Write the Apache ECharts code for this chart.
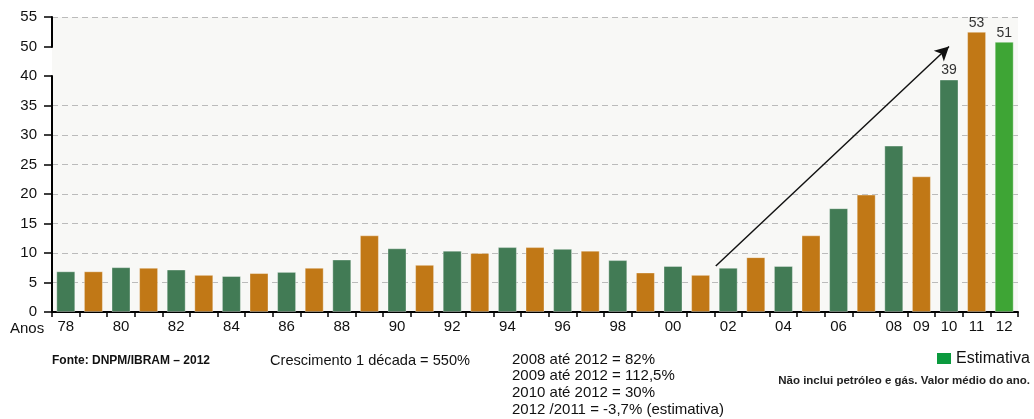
<!DOCTYPE html>
<html>
<head>
<meta charset="utf-8">
<script src="https://cdn.jsdelivr.net/npm/echarts@6/dist/echarts.min.js"></script>
<style>
html,body{margin:0;padding:0;background:#fff;}
#c{width:1034px;height:419px;}
</style>
</head>
<body>
<div id="c"></div>
<script>
var years = ['78','79','80','81','82','83','84','85','86','87','88','89','90','91','92','93','94','95','96','97','98','99','00','01','02','03','04','05','06','07','08','09','10','11','12'];
var values = [6.9,6.9,7.6,7.5,7.2,6.3,6.1,6.6,6.8,7.5,8.9,13.0,10.8,8.0,10.4,10.0,11.0,11.0,10.7,10.4,8.8,6.7,7.8,6.3,7.5,9.3,7.8,13.0,17.6,19.9,28.2,23.0,39.4,52.5,50.8];
var labeledYears = ['10','11','12'];
var estimateYears = ['12'];
var shownYearLabels = ['78','80','82','84','86','88','90','92','94','96','98','00','02','04','06','08','09','10','11','12'];
var yTicks = {min:0, max:55, interval:5, breakStart:40, breakEnd:50};
// arrow ends, in category-slot units (0 = left edge of '78') and axis values
var arrowFrom = [24.05, 7.8];
var arrowTo = [32.5, 50];
var notes = ['2008 até 2012 = 82%','2009 até 2012 = 112,5%','2010 até 2012 = 30%','2012 /2011 = -3,7% (estimativa)'];

var FONT = '"Liberation Sans Narrow","Liberation Sans",Arial,sans-serif';
var GREEN = '#427b55', ORANGE = '#c17816', EST = '#3ea535';

var chart = echarts.init(document.getElementById('c'), null, {renderer:'canvas'});

var barData = values.map(function(v, i){
  var y = years[i];
  var col = estimateYears.indexOf(y) >= 0 ? EST : (i % 2 === 0 ? GREEN : ORANGE);
  return {
    value: v,
    itemStyle: {color: col},
    label: {show: labeledYears.indexOf(y) >= 0}
  };
});

var noteTexts = notes.map(function(t, i){
  return {type:'text', left: 512, top: 352 + i*16.7,
    style:{text:t, font:'15px '+FONT, fill:'#111'}};
});

chart.setOption({
  animation: false,
  grid: {left: 52, right: 16, top: 17, bottom: 107, show: true, backgroundColor: '#f8f8f6', borderWidth: 0},
  xAxis: [{
    type: 'category',
    data: years,
    boundaryGap: true,
    axisLine: {lineStyle: {color: '#000', width: 2}},
    axisTick: {show: true, interval: 0, length: 5, lineStyle: {color: '#000', width: 1.5}},
    axisLabel: {
      interval: function(i, v){ return shownYearLabels.indexOf(v) >= 0; },
      margin: 7, color: '#111', fontSize: 15, fontFamily: FONT
    },
    splitLine: {show: false}
  }, {
    type: 'value', min: 0, max: years.length, show: false
  }],
  yAxis: {
    type: 'value',
    min: yTicks.min, max: yTicks.max, interval: yTicks.interval,
    breaks: [{start: yTicks.breakStart, end: yTicks.breakEnd, gap: 5}],
    breakArea: {show: false},
    axisLine: {show: true, lineStyle: {color: '#000', width: 2}},
    axisTick: {show: true, length: 8, lineStyle: {color: '#000', width: 1.5}},
    axisLabel: {margin: 15, color: '#111', fontSize: 15, fontFamily: FONT},
    splitLine: {show: true, lineStyle: {color: '#bbbbbb', type: [6, 4], width: 1}}
  },
  series: [{
    type: 'bar',
    data: barData,
    barWidth: 19,
    itemStyle: {borderColor: 'rgba(255,255,255,0.35)', borderWidth: 1},
    label: {position: 'top', distance: 2, color: '#333', fontSize: 14, fontFamily: FONT,
      formatter: function(p){ return Math.round(p.value); }}
  }, {
    type: 'line',
    xAxisIndex: 1,
    data: [],
    showSymbol: false,
    markLine: {
      silent: true,
      symbol: ['none', 'arrow'],
      symbolSize: [11, 14],
      label: {show: false},
      lineStyle: {color: '#111', width: 1.5, type: 'solid'},
      data: [[{coord: arrowFrom}, {coord: arrowTo}]]
    }
  }],
  graphic: [
    {type:'text', left: 10, top: 321, style:{text:'Anos', font:'15px '+FONT, fill:'#111'}},
    {type:'text', left: 52, top: 355, style:{
      text:'Fonte: DNPM/IBRAM – 2012',
      font:'bold 12px '+FONT, fill:'#111'
    }},
    {type:'text', left: 270, top: 353, style:{text:'Crescimento 1 década = 550%', font:'14.6px '+FONT, fill:'#111'}},
    {type:'rect', left: 937, top: 353, shape:{width:14, height:11}, style:{fill:'#0b9a3e'}},
    {type:'text', left: 956, top: 351, style:{text:'Estimativa', font:'16px '+FONT, fill:'#111'}},
    {type:'text', right: 4, top: 375, style:{text:'Não inclui petróleo e gás. Valor médio do ano.', font:'bold 11.5px '+FONT, fill:'#222'}}
  ].concat(noteTexts)
});
</script>
</body>
</html>
